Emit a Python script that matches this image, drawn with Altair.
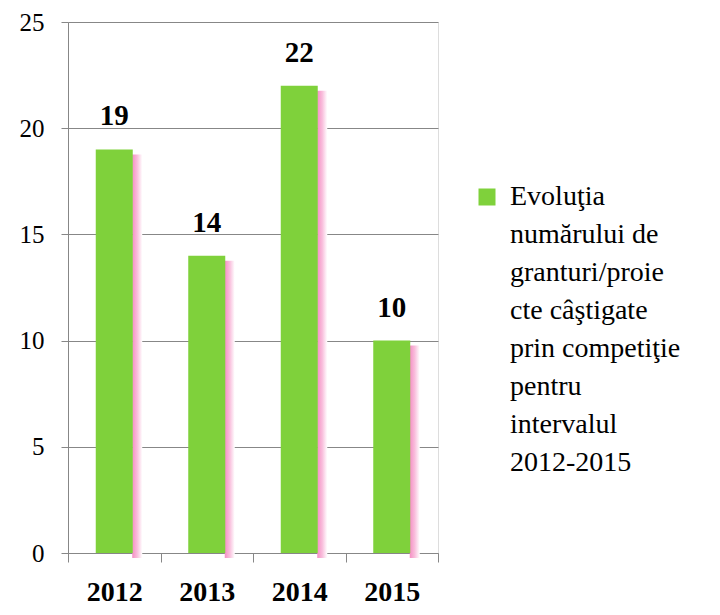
import altair as alt
import pandas as pd

years = ["2012", "2013", "2014", "2015"]
values = [19, 14, 22, 10]
legend_lines = ["Evoluţia", "numărului de", "granturi/proie", "cte câştigate",
                "prin competiţie", "pentru", "intervalul", "2012-2015"]
series_name = "\n".join(legend_lines)

df = pd.DataFrame({"year": years, "value": values, "series": [series_name] * len(years)})

GREEN = "#7FD13B"
GRID = "#878787"

x_enc = alt.X("year:N", sort=years, title=None,
              scale=alt.Scale(paddingInner=0, paddingOuter=0),
              axis=alt.Axis(labelAngle=0, tickBand="extent", tickSize=9,
                            labelFont="Liberation Serif", labelFontSize=28,
                            labelFontWeight="bold", labelColor="black",
                            labelPadding=16, domainColor=GRID, tickColor=GRID,
                            grid=False))
y_enc = alt.Y("value:Q", title=None,
              scale=alt.Scale(domain=[0, 25], nice=False),
              axis=alt.Axis(values=[0, 5, 10, 15, 20, 25], tickSize=7,
                            labelFont="Liberation Serif", labelFontSize=25,
                            labelColor="black", labelPadding=17,
                            domainColor=GRID, tickColor=GRID,
                            grid=True, gridColor=GRID, gridWidth=1))

base = alt.Chart(df)

shadow = base.mark_bar(
    size=10, xOffset=23, yOffset=5,
    color=alt.LinearGradient(
        gradient="linear", x1=0, x2=1, y1=0, y2=0,
        stops=[alt.GradientStop(color="#F58FC4", offset=0),
               alt.GradientStop(color="#F9BEDC", offset=0.5),
               alt.GradientStop(color="#FFFFFF", offset=1)])
).encode(x=x_enc, y=y_enc)

bars = base.mark_bar(size=37).encode(
    x=x_enc, y=y_enc,
    color=alt.Color("series:N",
                    scale=alt.Scale(range=[GREEN]),
                    legend=alt.Legend(title=None, orient="none",
                                      legendX=405, legendY=161, padding=0,
                                      symbolType="square", symbolSize=289,
                                      symbolStrokeWidth=0, symbolOpacity=1,
                                      labelFont="Liberation Serif", labelFontSize=28,
                                      labelColor="black", labelOffset=9,
                                      labelLimit=400,
                                      labelExpr="split(datum.label, '\\n')"))
)

labels = base.mark_text(font="Liberation Serif", fontSize=29, fontWeight="bold",
                        baseline="alphabetic", dy=-24, color="black").encode(
    x=alt.X("year:N", sort=years), y="value:Q", text="value:Q")

chart = alt.layer(shadow, bars, labels).properties(
    width=370, height=531,
    autosize=alt.AutoSizeParams(type="none"),
    padding={"left": 60, "top": 14, "right": 274, "bottom": 54},
    background="white",
).configure_view(stroke="transparent").configure(
    style={"guide-label": {"lineHeight": 38}}
)

chart.save("out.html", embed_options={"renderer": "svg", "actions": False})
